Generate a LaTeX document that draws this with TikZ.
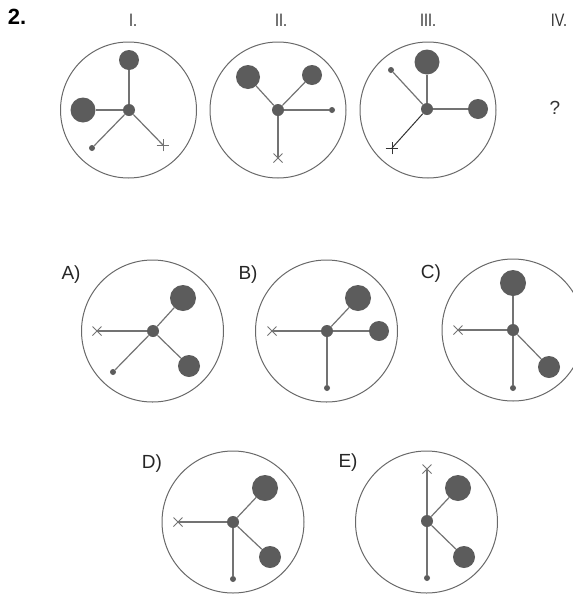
\documentclass[tikz,border=0pt]{standalone}
\usepackage{fontspec}
\setmainfont{Liberation Sans}
\newfontfamily\narrowfont[FakeStretch=0.8]{Liberation Sans}
\usetikzlibrary{shapes.misc}
\definecolor{ringgray}{RGB}{105,105,105}
\definecolor{dotgray}{RGB}{92,92,92}
\definecolor{linegray}{RGB}{115,115,115}
\tikzset{
  ring/.style={circle, draw=ringgray, line width=1pt, inner sep=0pt, minimum size=#1},
  hub/.style={circle, fill=dotgray, inner sep=0pt, minimum size=12pt},
  ball/.style={circle, fill=dotgray, inner sep=0pt, minimum size=#1},
  tipdot/.style={circle, fill=dotgray, inner sep=0pt, minimum size=6pt},
  xmark/.style={cross out, draw=linegray, line width=1pt, inner sep=0pt, minimum size=8pt},
  arm/.style={draw=linegray, line width=1.2pt},
  optlabel/.style={font=\fontsize{19}{19}\selectfont, text=black!85},
  romlabel/.style={font=\narrowfont\fontsize{18}{18}\selectfont, text=black!80},
}
\begin{document}
\begin{tikzpicture}[x=1pt,y=-1pt]
\useasboundingbox (0,0) rectangle (573,595);
\clip (0,0) rectangle (573,595);

% header labels
\node[font=\bfseries\fontsize{22}{22}\selectfont] (num) at (17,17) {2.};
\node[romlabel] (lI) at (133,20) {I.};
\node[romlabel] (lII) at (281,20) {II.};
\node[romlabel] (lIII) at (428,20) {III.};
\node[romlabel] (lIV) at (559,20) {IV.};
\node[font=\fontsize{19}{19}\selectfont, text=black!80] (q) at (555,108) {?};

% ---------- Panel I ----------
\node[ring=136pt] (r1) at (128.5,110) {};
\node[hub] (h1) at (129,110) {};
\node[ball=20pt] (b1a) at (129,60) {};
\node[ball=25pt] (b1b) at (83,110) {};
\node[tipdot] (s1) at (92,148) {};
\node[xmark, rotate=45] (x1) at (163,145) {};
\draw[arm] (h1) -- (b1a);
\draw[arm] (h1) -- (b1b);
\draw[arm] (h1) -- (s1);
\draw[arm] (h1) -- (x1.center);

% ---------- Panel II ----------
\node[ring=136pt] (r2) at (278,110) {};
\node[hub] (h2) at (278,110) {};
\node[ball=24pt] (b2a) at (248,77) {};
\node[ball=20pt] (b2b) at (312,75) {};
\node[tipdot] (s2) at (332,110) {};
\node[xmark] (x2) at (278,158) {};
\draw[arm] (h2) -- (b2a);
\draw[arm] (h2) -- (b2b);
\draw[arm] (h2) -- (s2);
\draw[arm] (h2) -- (x2.center);

% ---------- Panel III ----------
\node[ring=136pt] (r3) at (428,110) {};
\node[hub] (h3) at (427,109) {};
\node[ball=25pt] (b3a) at (427,62) {};
\node[ball=20pt] (b3b) at (478,109) {};
\node[tipdot] (s3) at (391,70) {};
\node[xmark, rotate=45, draw=black!80] (x3) at (392,148) {};
\draw[arm] (h3) -- (b3a);
\draw[arm] (h3) -- (b3b);
\draw[arm] (h3) -- (s3);
\draw[arm, draw=black!80, line width=1pt] (h3) -- (x3.center);

% ---------- Option A ----------
\node[optlabel] (lA) at (71,275) {A)};
\node[ring=142pt] (rA) at (152.5,331) {};
\node[hub] (hA) at (153,331) {};
\node[ball=26pt] (bAa) at (183,298) {};
\node[ball=22pt] (bAb) at (189,366) {};
\node[tipdot] (sA) at (113,372) {};
\node[xmark] (xA) at (97,331) {};
\draw[arm] (hA) -- (bAa);
\draw[arm] (hA) -- (bAb);
\draw[arm] (hA) -- (sA);
\draw[arm] (hA) -- (xA.center);

% ---------- Option B ----------
\node[optlabel] (lB) at (248,275) {B)};
\node[ring=142pt] (rB) at (326.5,331) {};
\node[hub] (hB) at (327,331) {};
\node[ball=26pt] (bBa) at (358,298) {};
\node[ball=20pt] (bBb) at (379,331) {};
\node[tipdot] (sB) at (327,388) {};
\node[xmark] (xB) at (272,331) {};
\draw[arm] (hB) -- (bBa);
\draw[arm] (hB) -- (bBb);
\draw[arm] (hB) -- (sB);
\draw[arm] (hB) -- (xB.center);

% ---------- Option C ----------
\node[optlabel] (lC) at (431,274) {C)};
\node[ring=142pt] (rC) at (513,330) {};
\node[hub] (hC) at (513,330) {};
\node[ball=26pt] (bCa) at (513,283) {};
\node[ball=22pt] (bCb) at (549,367) {};
\node[tipdot] (sC) at (513,388) {};
\node[xmark] (xC) at (458,330) {};
\draw[arm] (hC) -- (bCa);
\draw[arm] (hC) -- (bCb);
\draw[arm] (hC) -- (sC);
\draw[arm] (hC) -- (xC.center);

% ---------- Option D ----------
\node[optlabel] (lD) at (152,464) {D)};
\node[ring=142pt] (rD) at (233,522) {};
\node[hub] (hD) at (233,522) {};
\node[ball=26pt] (bDa) at (265,488) {};
\node[ball=22pt] (bDb) at (270,557) {};
\node[tipdot] (sD) at (233,579) {};
\node[xmark] (xD) at (178,522) {};
\draw[arm] (hD) -- (bDa);
\draw[arm] (hD) -- (bDb);
\draw[arm] (hD) -- (sD);
\draw[arm] (hD) -- (xD.center);

% ---------- Option E ----------
\node[optlabel] (lE) at (348,463) {E)};
\node[ring=142pt] (rE) at (426.5,522) {};
\node[hub] (hE) at (427,521) {};
\node[ball=26pt] (bEa) at (458,488) {};
\node[ball=22pt] (bEb) at (464,557) {};
\node[tipdot] (sE) at (427,578) {};
\node[xmark] (xE) at (427,469) {};
\draw[arm] (hE) -- (bEa);
\draw[arm] (hE) -- (bEb);
\draw[arm] (hE) -- (sE);
\draw[arm] (hE) -- (xE.center);
\end{tikzpicture}
\end{document}
